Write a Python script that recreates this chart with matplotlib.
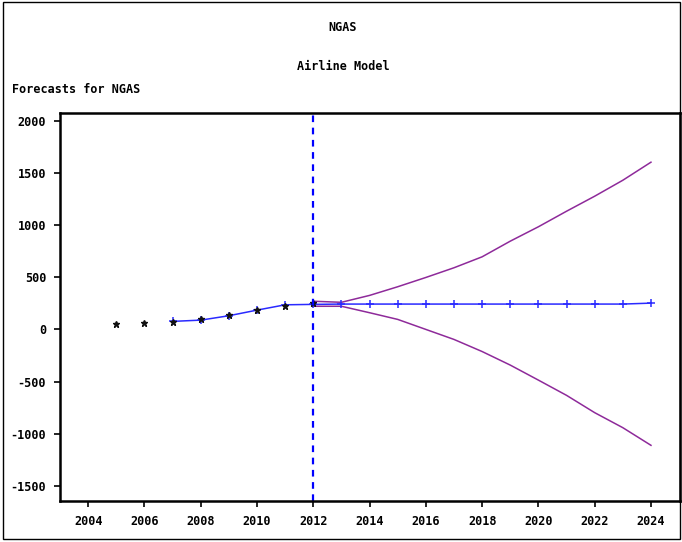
import matplotlib
matplotlib.use("Agg")
import matplotlib.pyplot as plt
from matplotlib.patches import Rectangle

plt.rcParams.update({
    "font.family": "DejaVu Sans Mono",
    "font.weight": "bold",
    "font.size": 8.5,
    "axes.unicode_minus": False,
})

# observed values
act_years = [2005, 2006, 2007, 2008, 2009, 2010, 2011, 2012]
act_vals = [48, 60, 70, 96, 134, 185, 223, 249]

# one-step / multi-step forecasts
fc_years = list(range(2007, 2025))
fc_vals = [77, 89, 131, 185, 236, 240, 243, 243, 243, 243, 243, 243,
           243, 243, 243, 243, 243, 252]

# confidence limits
band_years = list(range(2012, 2025))
upper = [270, 260, 326, 409, 498, 591, 696, 846, 984, 1133, 1277, 1430, 1603]
lower = [222, 222, 160, 96, 0, -96, -212, -342, -486, -632, -798, -942, -1111]

x_ticks = list(range(2004, 2025, 2))
y_ticks = [-1500, -1000, -500, 0, 500, 1000, 1500, 2000]

fig = plt.figure(figsize=(6.82, 5.42), dpi=100)
ax = fig.add_axes([0.088, 0.0756, 0.909, 0.716])

ax.plot(band_years, upper, color="#8E2A9A", linewidth=1.1)
ax.plot(band_years, lower, color="#8E2A9A", linewidth=1.1)
ax.plot(fc_years, fc_vals, color="#2A2AFF", linewidth=1.1, marker="+",
        markersize=6, markeredgewidth=1.1)
ax.plot(act_years, act_vals, linestyle="none", marker="*", color="#111111",
        markersize=4.5)
ax.axvline(2012, color="#0000FF", linestyle=(0, (3, 2.5)), linewidth=1.6)

ax.set_xlim(2003, 2025.03)
ax.set_ylim(-1645, 2075)
ax.set_xticks(x_ticks)
ax.set_yticks(y_ticks)
ax.tick_params(direction="out", length=4, width=1.2, pad=6)
for s in ax.spines.values():
    s.set_linewidth(1.8)

fig.text(0.503, 0.950, "NGAS", ha="center", va="center")
fig.text(0.503, 0.878, "Airline Model", ha="center", va="center")
fig.text(0.018, 0.834, "Forecasts for NGAS", ha="left", va="center")

fig.patches.append(Rectangle((0.004, 0.006), 0.993, 0.99, transform=fig.transFigure,
                             fill=False, edgecolor="black", linewidth=1.0))

fig.savefig("out.png", dpi=100)
